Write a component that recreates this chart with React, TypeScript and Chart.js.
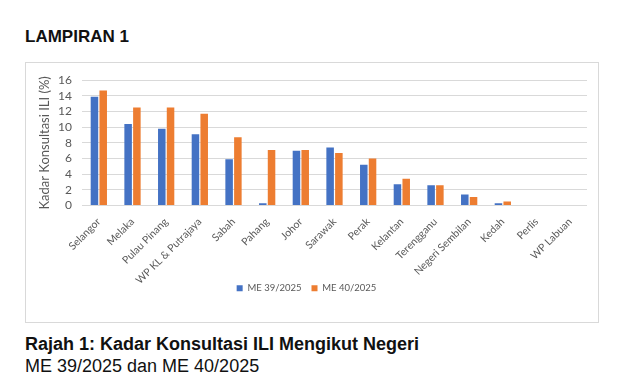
import React, { useEffect, useRef } from "react";
import { Chart, registerables } from "chart.js";

Chart.register(...registerables);

const categories = [
  "Selangor",
  "Melaka",
  "Pulau Pinang",
  "WP KL & Putrajaya",
  "Sabah",
  "Pahang",
  "Johor",
  "Sarawak",
  "Perak",
  "Kelantan",
  "Terengganu",
  "Negeri Sembilan",
  "Kedah",
  "Perlis",
  "WP Labuan",
];
const me39 = [13.9, 10.4, 9.8, 9.1, 5.9, 0.3, 7.0, 7.4, 5.2, 2.7, 2.6, 1.4, 0.3, 0, 0];
const me40 = [14.7, 12.5, 12.5, 11.7, 8.7, 7.1, 7.1, 6.7, 6.0, 3.4, 2.6, 1.1, 0.5, 0, 0];
const seriesLabels = ["ME 39/2025", "ME 40/2025"];
const yTitle = "Kadar Konsultasi ILI (%)";

export default function App() {
  const ref = useRef<HTMLCanvasElement | null>(null);
  useEffect(() => {
    document.body.style.margin = "0";
    if (!ref.current) return;
    const chart = new Chart(ref.current, {
      type: "bar",
      data: {
        labels: categories,
        datasets: [
          {
            label: seriesLabels[0],
            data: me39,
            backgroundColor: "#4472C4",
            categoryPercentage: 0.52,
            barPercentage: 0.86,
          },
          {
            label: seriesLabels[1],
            data: me40,
            backgroundColor: "#ED7D31",
            categoryPercentage: 0.52,
            barPercentage: 0.86,
          },
        ],
      },
      options: {
        animation: false,
        responsive: false,
        layout: { padding: { top: 13, right: 11, left: 0, bottom: 19 } },
        plugins: {
          legend: {
            position: "bottom",
            labels: {
              boxWidth: 6,
              boxHeight: 6,
              padding: 10,
              color: "#595959",
              font: { family: "Lato", size: 9.5 },
            },
          },
          tooltip: { enabled: false },
        },
        scales: {
          x: {
            grid: { display: false },
            border: { display: false },
            ticks: {
              minRotation: 45,
              maxRotation: 45,
              autoSkip: false,
              color: "#595959",
              font: { family: "Lato", size: 10.5 },
              padding: 2,
            },
            afterFit: (s: any) => {
              s.height = 68;
              s._computeLabelArea = () => undefined;
            },
          },
          y: {
            min: 0,
            max: 16,
            ticks: {
              stepSize: 2,
              autoSkip: false,
              color: "#595959",
              font: { family: "Lato", size: 12 },
              padding: 10,
            },
            grid: { color: "#d9d9d9", lineWidth: 1, drawTicks: false },
            border: { display: false },
            title: {
              display: true,
              text: yTitle,
              color: "#595959",
              font: { family: "Lato", size: 13 },
              padding: { top: 11, bottom: 0 },
            },
            afterFit: (s: any) => {
              s.width = 56;
            },
          },
        },
      },
    });
    return () => chart.destroy();
  }, []);

  return (
    <div style={{ position: "relative", width: 619, height: 391, background: "#fff", fontFamily: "'Liberation Sans', Arial, sans-serif", color: "#111" }}>
      <div style={{ position: "absolute", left: 25, top: 28, fontSize: 17, fontWeight: "bold", lineHeight: 1 }}>LAMPIRAN 1</div>
      <div style={{ position: "absolute", left: 25, top: 62, width: 574, height: 261, boxSizing: "border-box", border: "1px solid #d9d9d9" }}>
        <canvas ref={ref} width={572} height={259} style={{ display: "block" }} />
      </div>
      <div style={{ position: "absolute", left: 25, top: 335, fontSize: 18, fontWeight: "bold", lineHeight: 1 }}>Rajah 1: Kadar Konsultasi ILI Mengikut Negeri</div>
      <div style={{ position: "absolute", left: 25, top: 357, fontSize: 18, lineHeight: 1 }}>ME 39/2025 dan ME 40/2025</div>
    </div>
  );
}
